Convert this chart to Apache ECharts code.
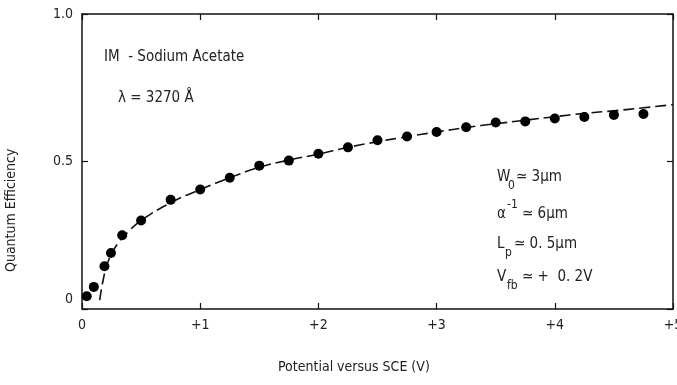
<!DOCTYPE html>
<html><head><meta charset="utf-8">
<script src="https://cdn.jsdelivr.net/npm/echarts@6/dist/echarts.min.js"></script>
<style>html,body{margin:0;padding:0;background:#fff}#c{width:677px;height:385px}</style>
</head><body><div id="c"></div>
<script>
// Measured points: potential (V vs SCE) and quantum efficiency
const potential = [0.04, 0.10, 0.19, 0.245, 0.34, 0.5, 0.75, 1.0, 1.25, 1.5, 1.75, 2.0, 2.25, 2.5, 2.75, 3.0, 3.25, 3.5, 3.75, 4.0, 4.25, 4.5, 4.75];
const efficiency = [0.043, 0.075, 0.145, 0.19, 0.25, 0.30, 0.37, 0.405, 0.445, 0.486, 0.503, 0.526, 0.548, 0.572, 0.585, 0.60, 0.616, 0.632, 0.636, 0.646, 0.651, 0.658, 0.661];
// Theoretical (dashed) curve
const curveV = [0.15, 0.18, 0.22, 0.3, 0.4, 0.5, 0.75, 1.0, 1.25, 1.5, 1.75, 2.0, 2.25, 2.5, 2.75, 3.0, 3.25, 3.5, 3.75, 4.0, 4.25, 4.5, 4.75, 5.0];
const curveQE = [0.03, 0.10, 0.16, 0.22, 0.265, 0.30, 0.36, 0.405, 0.445, 0.48, 0.505, 0.525, 0.548, 0.567, 0.584, 0.60, 0.615, 0.628, 0.64, 0.652, 0.663, 0.672, 0.682, 0.693];
const xTickLabels = {0:'0',1:'+1',2:'+2',3:'+3',4:'+4',5:'+5'};
const yTickLabels = {0:'{z|0}',0.5:'0.5',1:'1.0'};

const FONT = "'DejaVu Sans Condensed','Liberation Sans Narrow',sans-serif";
const TXT = '#222';
const chart = echarts.init(document.getElementById('c'));
const axisCommon = {
  axisLine:{show:true,onZero:false,lineStyle:{color:'#111',width:1.5}},
  axisTick:{show:true,inside:true,length:6,lineStyle:{color:'#111',width:1.2}},
  splitLine:{show:false}
};
function t(x,y,s,size){return {type:'text',left:x,top:y,style:{text:s,font:(size||15)+'px '+FONT,fill:TXT}};}
chart.setOption({
  animation:false,
  grid:{left:82,right:4,top:14,bottom:76,containLabel:false,outerBoundsMode:'none'},
  xAxis:[
    Object.assign({type:'value',min:0,max:5,interval:1,position:'bottom',
      axisLabel:{color:TXT,fontFamily:FONT,fontSize:14,margin:9,formatter:v=>xTickLabels[v]}},axisCommon),
    Object.assign({type:'value',min:0,max:5,interval:1,position:'top',axisLabel:{show:false}},axisCommon)
  ],
  yAxis:[
    Object.assign({type:'value',min:0,max:1,interval:0.5,position:'left',
      axisLabel:{color:TXT,fontFamily:FONT,fontSize:14,margin:9,formatter:v=>yTickLabels[v],
        rich:{z:{fontFamily:FONT,fontSize:14,color:TXT,padding:[0,0,20,0]}}}},axisCommon),
    Object.assign({type:'value',min:0,max:1,interval:0.5,position:'right',axisLabel:{show:false}},axisCommon)
  ],
  series:[
    {type:'line',data:curveV.map((v,i)=>[v,curveQE[i]]),smooth:true,showSymbol:false,
     lineStyle:{color:'#111',width:1.6,type:[11,5]},z:2},
    {type:'scatter',data:potential.map((v,i)=>[v,efficiency[i]]),symbol:'circle',symbolSize:10,
     itemStyle:{color:'#000',opacity:1},z:3}
  ],
  graphic:[
    {type:'text',left:278,top:360,style:{text:'Potential versus SCE (V)',font:'14px '+FONT,fill:TXT}},
    {type:'text',x:4,y:272,rotation:Math.PI/2,style:{text:'Quantum Efficiency',font:'14px '+FONT,fill:TXT}},
    t(104,50,'IM  - Sodium Acetate'),
    t(118,91,'λ = 3270 Å'),
    t(497,170,'W'), t(508,180,'0',12), t(516,170,'≃ 3μm'),
    t(497,207,'α'), t(507,199,'-1',12), t(522,207,'≃ 6μm'),
    t(497,237,'L'), t(505,247,'p',12), t(514,237,'≃ 0. 5μm'),
    t(497,270,'V'), t(507,280,'fb',12), t(522,270,'≃ +  0. 2V')
  ]
});
</script></body></html>
